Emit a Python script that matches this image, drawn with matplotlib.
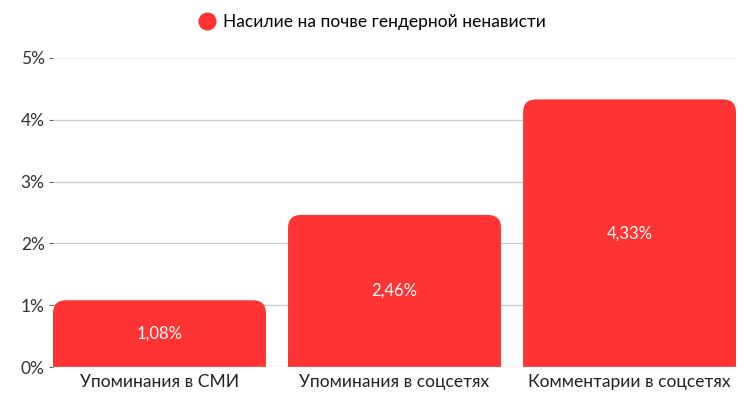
import matplotlib
matplotlib.use("Agg")
import matplotlib.pyplot as plt
from matplotlib.path import Path
from matplotlib.patches import PathPatch
from matplotlib.lines import Line2D

## Data
categories = ["Упоминания в СМИ", "Упоминания в соцсетях", "Комментарии в соцсетях"]
values = [1.08, 2.46, 4.33]
value_labels = ["1,08%", "2,46%", "4,33%"]
y_ticks = [0, 1, 2, 3, 4, 5]
series_name = "Насилие на почве гендерной ненависти"

RED = "#ff3333"
plt.rcParams["font.family"] = ["Lato", "DejaVu Sans"]

W, H = 744, 396
fig = plt.figure(figsize=(W / 100, H / 100), dpi=100)
ax_left, ax_right, ax_bottom, ax_top = 53, 736, 367, 58
ax = fig.add_axes([ax_left / W, (H - ax_bottom) / H,
                   (ax_right - ax_left) / W, (ax_bottom - ax_top) / H])

bar_w = 0.906
xmin, xmax = -bar_w / 2, len(categories) - 1 + bar_w / 2
ax.set_xlim(xmin, xmax)
ax.set_ylim(0, 5)

# pixels per data unit, used to keep the corner radius round
px_x = (ax_right - ax_left) / (xmax - xmin)
px_y = (ax_bottom - ax_top) / 5.0
r_px = 13
rx, ry = r_px / px_x, r_px / px_y


# Bar with rounded top corners
def rounded_bar(x0, x1, top):
    verts = [(x0, 0), (x0, top - ry), (x0, top), (x0 + rx, top),
             (x1 - rx, top), (x1, top), (x1, top - ry), (x1, 0), (x0, 0)]
    codes = [Path.MOVETO, Path.LINETO, Path.CURVE3, Path.CURVE3,
             Path.LINETO, Path.CURVE3, Path.CURVE3, Path.LINETO, Path.CLOSEPOLY]
    return PathPatch(Path(verts, codes), facecolor=RED, edgecolor="none", zorder=3)


for i, v in enumerate(values):
    ax.add_patch(rounded_bar(i - bar_w / 2, i + bar_w / 2, v))
    ax.text(i, v / 2, value_labels[i], color="white", ha="center", va="center",
            fontsize=12, zorder=4)

# grid and axes
for t in y_ticks[1:]:
    ax.axhline(t, color="#cccccc" if t < 5 else "#f0f0f0", lw=1, zorder=1)
ax.axhline(0, color="#cccccc", lw=1, zorder=4)
for s in ax.spines.values():
    s.set_visible(False)

ax.set_yticks(y_ticks)
ax.set_yticklabels([f"{t}%" for t in y_ticks])
ax.tick_params(axis="y", length=3, color="#666666", labelsize=12.5,
               labelcolor="#333333", pad=3)
ax.set_xticks(range(len(categories)))
ax.set_xticklabels(categories)
ax.tick_params(axis="x", length=0, labelsize=12.5, labelcolor="#222222", pad=5)

# legend on top
handle = Line2D([], [], marker="o", color="none", markerfacecolor=RED,
                markeredgecolor=RED, markersize=12)
fig.legend([handle], [series_name], loc="center", bbox_to_anchor=(0.5, 1 - 22 / H),
           frameon=False, fontsize=12.5, handletextpad=0.4, handlelength=1)

fig.savefig("out.png", dpi=100)
